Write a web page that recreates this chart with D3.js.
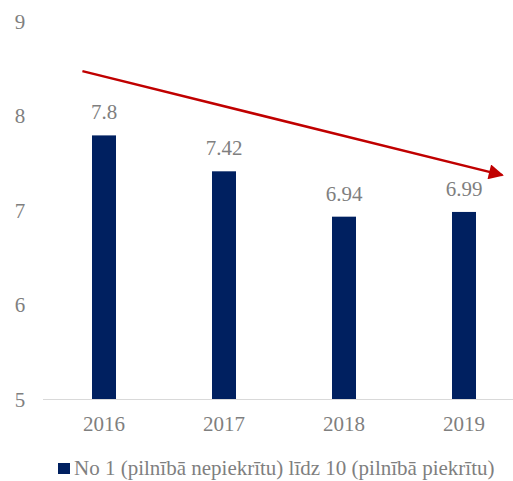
<!DOCTYPE html>
<html>
<head>
<meta charset="utf-8">
<script src="https://cdn.jsdelivr.net/npm/d3@7"></script>
<style>
  body { margin: 0; background: #fff; }
</style>
</head>
<body>
<svg id="chart"></svg>
<script>
// data
const years = ["2016", "2017", "2018", "2019"];
const values = [7.8, 7.42, 6.94, 6.99];
const yTicks = [5, 6, 7, 8, 9];
const seriesName = "No 1 (pilnībā nepiekrītu) līdz 10 (pilnībā piekrītu)";
// trend arrow, [band index, value]
const trendStart = [-0.18, 8.48];
const trendEnd = [3.32, 7.38];

const width = 513;
const height = 481;
const font = "'Liberation Serif', 'Times New Roman', 'DejaVu Serif', serif";
const textColor = "#7f7f7f";

const svg = d3.select("#chart")
  .attr("width", width)
  .attr("height", height)
  .attr("font-family", font);

// Scales
const x = d3.scaleBand()
  .domain(years)
  .range([44, 524])
  .paddingInner(0.8)
  .paddingOuter(0.4);

const y = d3.scaleLinear()
  .domain([5, 9])
  .range([400, 22]);

// index -> pixel for the arrow
const xi = d3.scaleLinear()
  .domain([0, 1])
  .range([x(years[0]) + x.bandwidth() / 2, x(years[1]) + x.bandwidth() / 2]);

// y tick labels
svg.selectAll(".ytick")
  .data(yTicks)
  .enter()
  .append("text")
  .attr("class", "ytick")
  .attr("x", 20)
  .attr("y", d => y(d))
  .attr("dy", "0.33em")
  .attr("text-anchor", "middle")
  .attr("font-size", 21)
  .attr("fill", textColor)
  .text(d => d);

// baseline
svg.append("line")
  .attr("x1", 43)
  .attr("x2", width)
  .attr("y1", y(5) - 0.5)
  .attr("y2", y(5) - 0.5)
  .attr("stroke", "#d9d9d9")
  .attr("stroke-width", 1);

// bars
svg.selectAll(".bar")
  .data(values)
  .enter()
  .append("rect")
  .attr("class", "bar")
  .attr("x", (d, i) => x(years[i]))
  .attr("width", x.bandwidth())
  .attr("y", d => y(d))
  .attr("height", d => y(5) - y(d) - 1)
  .attr("fill", "#002060");

// value labels
svg.selectAll(".val")
  .data(values)
  .enter()
  .append("text")
  .attr("class", "val")
  .attr("x", (d, i) => x(years[i]) + x.bandwidth() / 2)
  .attr("y", d => y(d) - 16)
  .attr("text-anchor", "middle")
  .attr("font-size", 21)
  .attr("fill", textColor)
  .text(d => d);

// x labels
svg.selectAll(".xtick")
  .data(years)
  .enter()
  .append("text")
  .attr("class", "xtick")
  .attr("x", d => x(d) + x.bandwidth() / 2)
  .attr("y", 431)
  .attr("text-anchor", "middle")
  .attr("font-size", 21)
  .attr("fill", textColor)
  .text(d => d);

// arrow
svg.append("defs")
  .append("marker")
  .attr("id", "arrowhead")
  .attr("viewBox", "0 0 10 10")
  .attr("refX", 9)
  .attr("refY", 5)
  .attr("markerWidth", 7)
  .attr("markerHeight", 6)
  .attr("markerUnits", "strokeWidth")
  .attr("orient", "auto")
  .append("path")
  .attr("d", "M0,0 L10,5 L0,10 z")
  .attr("fill", "#c00000");

svg.append("line")
  .attr("x1", xi(trendStart[0]))
  .attr("y1", y(trendStart[1]))
  .attr("x2", xi(trendEnd[0]))
  .attr("y2", y(trendEnd[1]))
  .attr("stroke", "#c00000")
  .attr("stroke-width", 2.5)
  .attr("marker-end", "url(#arrowhead)");

// legend (kept just inside the bottom edge)
const legend = svg.append("g")
  .attr("transform", "translate(58, 463)");

legend.append("rect")
  .attr("x", 0)
  .attr("y", 0)
  .attr("width", 12)
  .attr("height", 11)
  .attr("fill", "#002060");

legend.append("text")
  .attr("x", 16)
  .attr("y", 12)
  .attr("font-size", 21)
  .attr("fill", textColor)
  .text(seriesName);
</script>
</body>
</html>
